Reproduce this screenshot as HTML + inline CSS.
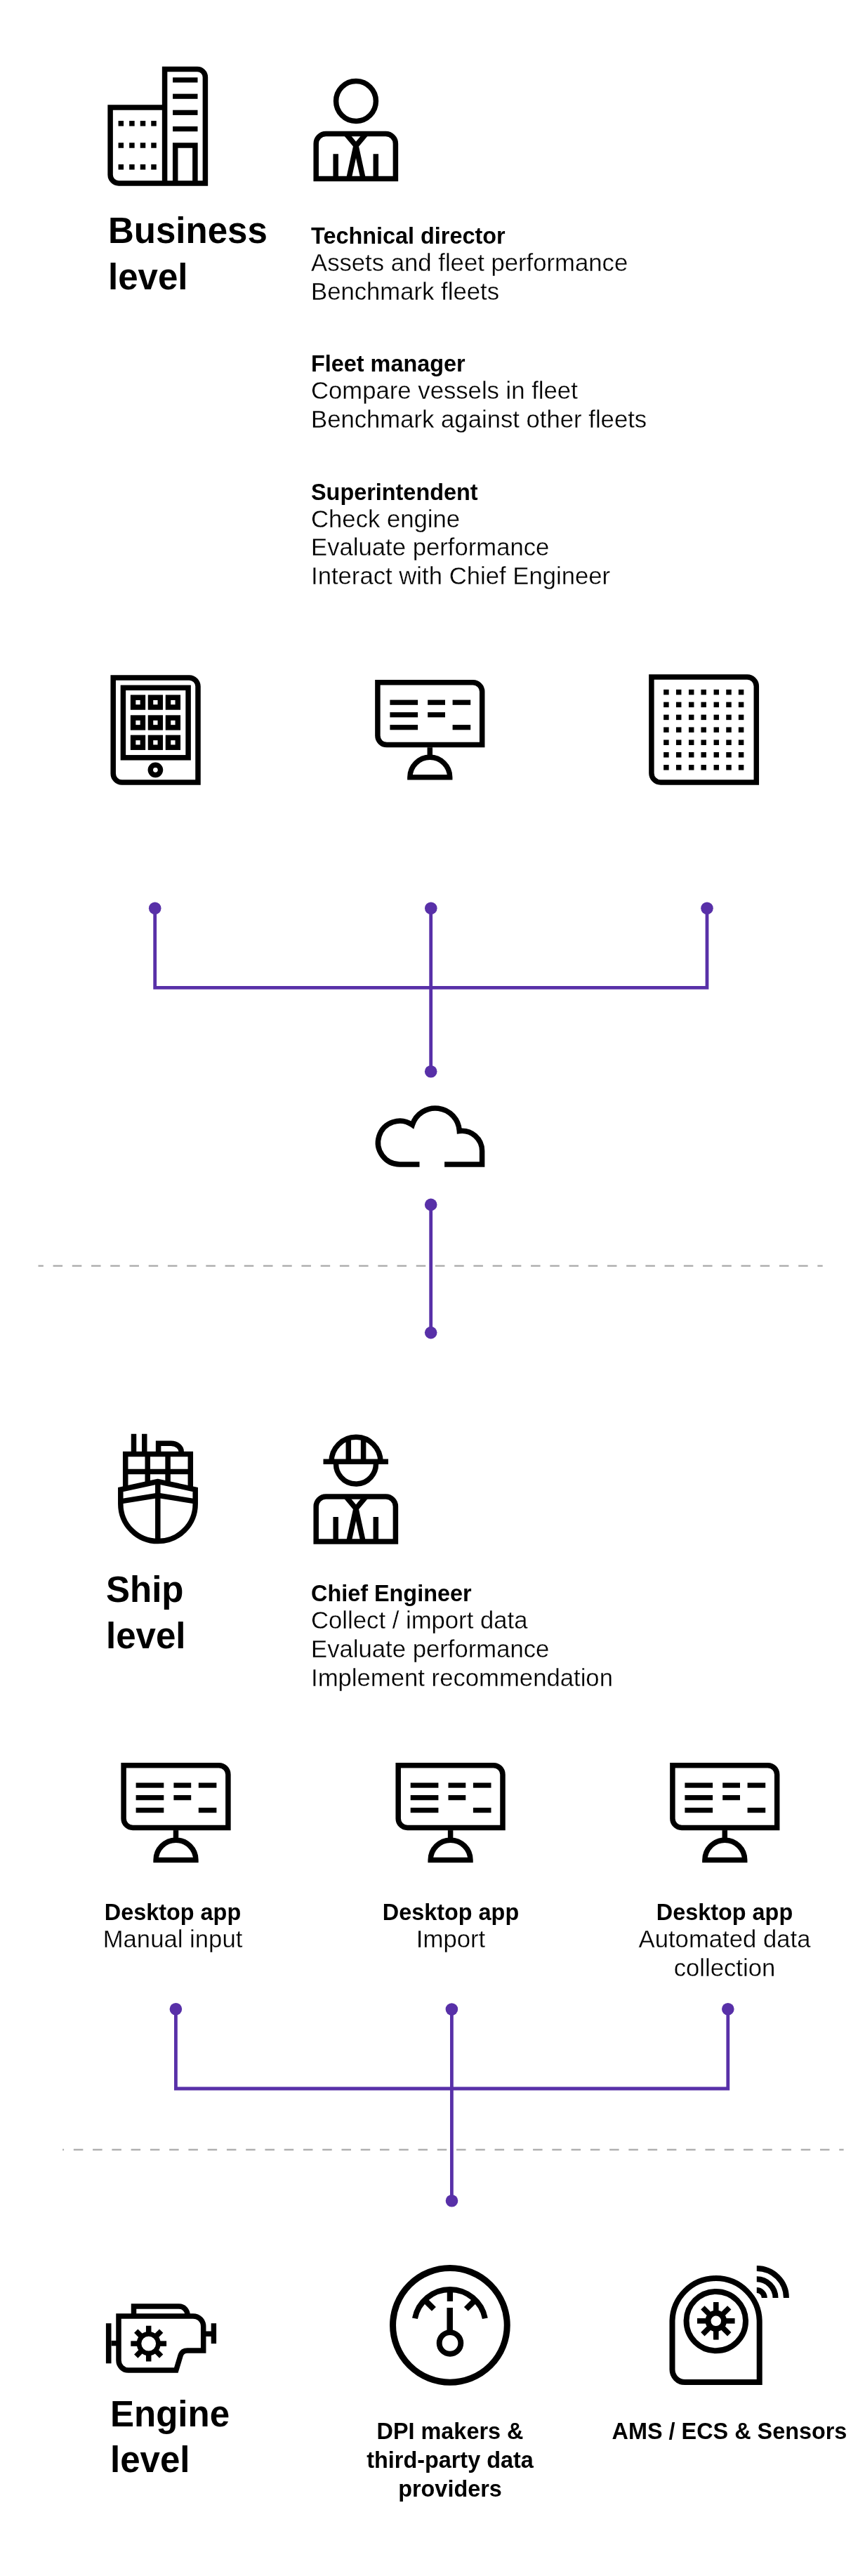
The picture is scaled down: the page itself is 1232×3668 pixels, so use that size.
<!DOCTYPE html>
<html><head><meta charset="utf-8"><style>
html,body{margin:0;padding:0;background:#fff;}
body{width:1232px;height:3668px;position:relative;overflow:hidden;font-family:"Liberation Sans",sans-serif;color:#000;}
svg{position:absolute;left:0;top:0;}
.s{fill:none;stroke:#000;stroke-width:7.5;stroke-linejoin:miter;}
.p{fill:none;stroke:#5830A8;stroke-width:4.8;}
.d{stroke:#b0b0b0;stroke-width:2.4;}
.t{position:absolute;white-space:nowrap;will-change:transform;}
.r{-webkit-text-stroke:0.3px #fff;}
</style></head><body>
<svg width="1232" height="3668" viewBox="0 0 1232 3668">
<path d="M234.6 152.9 H157.1 V248.9 A12 12 0 0 0 169.1 260.9 H292.4 V110 A11.4 11.4 0 0 0 281 98.6 H234.6 V260.9" class="s"/>
<rect x="246.1" y="110.3" width="35.4" height="7.2"/>
<rect x="246.1" y="133.6" width="35.4" height="7.2"/>
<rect x="246.1" y="156.7" width="35.4" height="7.2"/>
<rect x="246.1" y="180" width="35.4" height="7.2"/>
<path d="M249.7 260.9 V207 H277.9 V260.9" class="s"/>
<rect x="168.55" y="172.05" width="7.5" height="7.5"/>
<rect x="168.55" y="203.25" width="7.5" height="7.5"/>
<rect x="168.55" y="234.05" width="7.5" height="7.5"/>
<rect x="184.15" y="172.05" width="7.5" height="7.5"/>
<rect x="184.15" y="203.25" width="7.5" height="7.5"/>
<rect x="184.15" y="234.05" width="7.5" height="7.5"/>
<rect x="199.75" y="172.05" width="7.5" height="7.5"/>
<rect x="199.75" y="203.25" width="7.5" height="7.5"/>
<rect x="199.75" y="234.05" width="7.5" height="7.5"/>
<rect x="215.25" y="172.05" width="7.5" height="7.5"/>
<rect x="215.25" y="203.25" width="7.5" height="7.5"/>
<rect x="215.25" y="234.05" width="7.5" height="7.5"/>
<circle cx="507" cy="144" r="28.4" class="s"/>
<g transform="translate(0 0)"><path d="M450.2 254.5 V204.5 A14 14 0 0 1 464.2 190.5 H549.4 A14 14 0 0 1 563.4 204.5 V254.5 Z" class="s"/><path d="M478.2 219.3 V254.5 M535.3 219.3 V254.5" class="s"/><path d="M492.7 190.5 L507 207.5 L521.3 190.5 M496.8 254.5 L507 207.5 L517.2 254.5" class="s"/></g>
<path d="M161.2 964.9 H269.6 A12.4 12.4 0 0 1 282 977.3 V1114 H173.6 A12.4 12.4 0 0 1 161.2 1101.6 Z" class="s"/>
<rect x="175.4" y="979.3" width="92.7" height="99.5" class="s"/>
<rect x="189.6" y="993.2" width="13.8" height="13.8" class="s"/>
<rect x="189.6" y="1022.1" width="13.8" height="13.8" class="s"/>
<rect x="189.6" y="1050.4" width="13.8" height="13.8" class="s"/>
<rect x="214.5" y="993.2" width="13.8" height="13.8" class="s"/>
<rect x="214.5" y="1022.1" width="13.8" height="13.8" class="s"/>
<rect x="214.5" y="1050.4" width="13.8" height="13.8" class="s"/>
<rect x="239.5" y="993.2" width="13.8" height="13.8" class="s"/>
<rect x="239.5" y="1022.1" width="13.8" height="13.8" class="s"/>
<rect x="239.5" y="1050.4" width="13.8" height="13.8" class="s"/>
<circle cx="221.4" cy="1096.3" r="7.1" class="s"/>
<g transform="translate(534.3 968.2)"><path d="M3.6 3.6 H139.4 A13 13 0 0 1 152.4 16.6 V92.4 H16.6 A13 13 0 0 1 3.6 79.4 Z" class="s"/><rect x="21.1" y="28.4" width="39.7" height="7.2"/><rect x="74.9" y="28.4" width="24.8" height="7.2"/><rect x="110.3" y="28.4" width="25.6" height="7.2"/><rect x="21.1" y="46" width="39.7" height="7.2"/><rect x="74.9" y="46" width="24.8" height="7.2"/><rect x="21.1" y="63.9" width="39.7" height="7.2"/><rect x="110.3" y="63.9" width="25.6" height="7.2"/><path d="M78 96 V108" class="s"/><path d="M49.6 138.5 A28.4 28.4 0 0 1 106.4 138.5 Z" class="s"/></g>
<path d="M927.9 964.1 H1064.3 A13 13 0 0 1 1077.3 977.1 V1114 H940.9 A13 13 0 0 1 927.9 1101 Z" class="s"/>
<rect x="945.15" y="981.85" width="7.5" height="7.5"/>
<rect x="945.15" y="999.65" width="7.5" height="7.5"/>
<rect x="945.15" y="1017.65" width="7.5" height="7.5"/>
<rect x="945.15" y="1035.45" width="7.5" height="7.5"/>
<rect x="945.15" y="1053.45" width="7.5" height="7.5"/>
<rect x="945.15" y="1071.05" width="7.5" height="7.5"/>
<rect x="945.15" y="1089.05" width="7.5" height="7.5"/>
<rect x="962.95" y="981.85" width="7.5" height="7.5"/>
<rect x="962.95" y="999.65" width="7.5" height="7.5"/>
<rect x="962.95" y="1017.65" width="7.5" height="7.5"/>
<rect x="962.95" y="1035.45" width="7.5" height="7.5"/>
<rect x="962.95" y="1053.45" width="7.5" height="7.5"/>
<rect x="962.95" y="1071.05" width="7.5" height="7.5"/>
<rect x="962.95" y="1089.05" width="7.5" height="7.5"/>
<rect x="980.95" y="981.85" width="7.5" height="7.5"/>
<rect x="980.95" y="999.65" width="7.5" height="7.5"/>
<rect x="980.95" y="1017.65" width="7.5" height="7.5"/>
<rect x="980.95" y="1035.45" width="7.5" height="7.5"/>
<rect x="980.95" y="1053.45" width="7.5" height="7.5"/>
<rect x="980.95" y="1071.05" width="7.5" height="7.5"/>
<rect x="980.95" y="1089.05" width="7.5" height="7.5"/>
<rect x="998.45" y="981.85" width="7.5" height="7.5"/>
<rect x="998.45" y="999.65" width="7.5" height="7.5"/>
<rect x="998.45" y="1017.65" width="7.5" height="7.5"/>
<rect x="998.45" y="1035.45" width="7.5" height="7.5"/>
<rect x="998.45" y="1053.45" width="7.5" height="7.5"/>
<rect x="998.45" y="1071.05" width="7.5" height="7.5"/>
<rect x="998.45" y="1089.05" width="7.5" height="7.5"/>
<rect x="1016.55" y="981.85" width="7.5" height="7.5"/>
<rect x="1016.55" y="999.65" width="7.5" height="7.5"/>
<rect x="1016.55" y="1017.65" width="7.5" height="7.5"/>
<rect x="1016.55" y="1035.45" width="7.5" height="7.5"/>
<rect x="1016.55" y="1053.45" width="7.5" height="7.5"/>
<rect x="1016.55" y="1071.05" width="7.5" height="7.5"/>
<rect x="1016.55" y="1089.05" width="7.5" height="7.5"/>
<rect x="1034.25" y="981.85" width="7.5" height="7.5"/>
<rect x="1034.25" y="999.65" width="7.5" height="7.5"/>
<rect x="1034.25" y="1017.65" width="7.5" height="7.5"/>
<rect x="1034.25" y="1035.45" width="7.5" height="7.5"/>
<rect x="1034.25" y="1053.45" width="7.5" height="7.5"/>
<rect x="1034.25" y="1071.05" width="7.5" height="7.5"/>
<rect x="1034.25" y="1089.05" width="7.5" height="7.5"/>
<rect x="1051.85" y="981.85" width="7.5" height="7.5"/>
<rect x="1051.85" y="999.65" width="7.5" height="7.5"/>
<rect x="1051.85" y="1017.65" width="7.5" height="7.5"/>
<rect x="1051.85" y="1035.45" width="7.5" height="7.5"/>
<rect x="1051.85" y="1053.45" width="7.5" height="7.5"/>
<rect x="1051.85" y="1071.05" width="7.5" height="7.5"/>
<rect x="1051.85" y="1089.05" width="7.5" height="7.5"/>
<path d="M597.5 1657.9 H569.4 A30.9 30.9 0 1 1 587.25 1601.78 A34.4 34.4 0 0 1 654.35 1610.43 A28.6 28.6 0 0 1 686.6 1638.8 V1657.9 H633.1" class="s"/>
<path d="M220.7 1293.3 V1406.4 H1007 V1293.3 M613.7 1293.1 V1525.7" class="p"/>
<circle cx="220.7" cy="1293.3" r="8.8" fill="#5830A8"/>
<circle cx="613.8" cy="1293.3" r="8.8" fill="#5830A8"/>
<circle cx="1007" cy="1293.3" r="8.8" fill="#5830A8"/>
<circle cx="613.7" cy="1525.7" r="8.8" fill="#5830A8"/>
<line x1="54.5" y1="1802.5" x2="1171.7" y2="1802.5" class="d" stroke-dasharray="13.5 13.72" stroke-dashoffset="6.14"/>
<path d="M613.7 1715.4 V1897.6" class="p"/>
<circle cx="613.7" cy="1715.4" r="8.8" fill="#5830A8"/>
<circle cx="613.7" cy="1897.6" r="8.8" fill="#5830A8"/>
<line x1="89.1" y1="3061" x2="1201.6" y2="3061" class="d" stroke-dasharray="13.5 13.76" stroke-dashoffset="11.52"/>
<path d="M250.4 2860.8 V2974 H1036.8 V2860.8 M643.4 2861 V3133.7" class="p"/>
<circle cx="250.4" cy="2860.8" r="8.8" fill="#5830A8"/>
<circle cx="643.4" cy="2861" r="8.8" fill="#5830A8"/>
<circle cx="1036.8" cy="2860.8" r="8.8" fill="#5830A8"/>
<circle cx="643.5" cy="3133.7" r="8.8" fill="#5830A8"/>
<path d="M190.5 2041.8 V2067 M205.75 2041.8 V2067" class="s"/>
<path d="M225.6 2067 V2055.3 H243.6 A14.6 11.7 0 0 1 258.2 2067" class="s"/>
<path d="M178.7 2121 V2070.5 H271.3 V2121 M178.7 2095.6 H271.3 M210.25 2070.5 V2113 M239.1 2070.5 V2113" class="s"/>
<path d="M225 2109.5 L171.8 2121 V2141.4 A53.2 53.2 0 0 0 278.2 2141.4 V2121 Z" class="s"/>
<path d="M171.8 2137.9 L225 2129.3 L278.2 2137.9" class="s"/>
<path d="M224.8 2110 V2194.6" class="s"/>
<path d="M472 2081.3 A35 35 0 0 1 542 2081.3 M460.5 2081.3 H553 M496.3 2046 V2081.3 M517.6 2046 V2081.3" class="s"/>
<path d="M478.8 2081.3 A28.4 28.4 0 1 0 535.2 2081.3" class="s"/>
<g transform="translate(0 1940.6)"><path d="M450.2 254.5 V204.5 A14 14 0 0 1 464.2 190.5 H549.4 A14 14 0 0 1 563.4 204.5 V254.5 Z" class="s"/><path d="M478.2 219.3 V254.5 M535.3 219.3 V254.5" class="s"/><path d="M492.7 190.5 L507 207.5 L521.3 190.5 M496.8 254.5 L507 207.5 L517.2 254.5" class="s"/></g>
<g transform="translate(172.5 2510.1)"><path d="M3.6 3.6 H139.4 A13 13 0 0 1 152.4 16.6 V92.4 H16.6 A13 13 0 0 1 3.6 79.4 Z" class="s"/><rect x="21.1" y="28.4" width="39.7" height="7.2"/><rect x="74.9" y="28.4" width="24.8" height="7.2"/><rect x="110.3" y="28.4" width="25.6" height="7.2"/><rect x="21.1" y="46" width="39.7" height="7.2"/><rect x="74.9" y="46" width="24.8" height="7.2"/><rect x="21.1" y="63.9" width="39.7" height="7.2"/><rect x="110.3" y="63.9" width="25.6" height="7.2"/><path d="M78 96 V108" class="s"/><path d="M49.6 138.5 A28.4 28.4 0 0 1 106.4 138.5 Z" class="s"/></g>
<g transform="translate(563.6 2510.1)"><path d="M3.6 3.6 H139.4 A13 13 0 0 1 152.4 16.6 V92.4 H16.6 A13 13 0 0 1 3.6 79.4 Z" class="s"/><rect x="21.1" y="28.4" width="39.7" height="7.2"/><rect x="74.9" y="28.4" width="24.8" height="7.2"/><rect x="110.3" y="28.4" width="25.6" height="7.2"/><rect x="21.1" y="46" width="39.7" height="7.2"/><rect x="74.9" y="46" width="24.8" height="7.2"/><rect x="21.1" y="63.9" width="39.7" height="7.2"/><rect x="110.3" y="63.9" width="25.6" height="7.2"/><path d="M78 96 V108" class="s"/><path d="M49.6 138.5 A28.4 28.4 0 0 1 106.4 138.5 Z" class="s"/></g>
<g transform="translate(954.3 2510.1)"><path d="M3.6 3.6 H139.4 A13 13 0 0 1 152.4 16.6 V92.4 H16.6 A13 13 0 0 1 3.6 79.4 Z" class="s"/><rect x="21.1" y="28.4" width="39.7" height="7.2"/><rect x="74.9" y="28.4" width="24.8" height="7.2"/><rect x="110.3" y="28.4" width="25.6" height="7.2"/><rect x="21.1" y="46" width="39.7" height="7.2"/><rect x="74.9" y="46" width="24.8" height="7.2"/><rect x="21.1" y="63.9" width="39.7" height="7.2"/><rect x="110.3" y="63.9" width="25.6" height="7.2"/><path d="M78 96 V108" class="s"/><path d="M49.6 138.5 A28.4 28.4 0 0 1 106.4 138.5 Z" class="s"/></g>
<rect x="150.9" y="3308.2" width="7.6" height="57.1"/>
<path d="M158.5 3336.6 H167" class="s"/>
<path d="M169 3297.9 H275 A14.7 14.7 0 0 1 289.7 3312.6 V3346.9 H267 Q259.5 3346.9 257.3 3353.5 L250.8 3375.1 H183 A14 14 0 0 1 169 3361.1 Z" class="s"/>
<path d="M190.5 3297.9 V3284.1 H255 A12 12 0 0 1 267 3296.1" class="s"/>
<path d="M291 3323.2 H301" class="s"/>
<rect x="300.7" y="3308.2" width="7.4" height="28.9"/>
<circle cx="211.7" cy="3337.1" r="13.75" fill="none" stroke="#000" stroke-width="6.7"/><line x1="226.7" y1="3337.1" x2="237.1" y2="3337.1" stroke="#000" stroke-width="7.5"/><line x1="222.31" y1="3347.71" x2="229.66" y2="3355.06" stroke="#000" stroke-width="7.5"/><line x1="211.7" y1="3352.1" x2="211.7" y2="3362.5" stroke="#000" stroke-width="7.5"/><line x1="201.09" y1="3347.71" x2="193.74" y2="3355.06" stroke="#000" stroke-width="7.5"/><line x1="196.7" y1="3337.1" x2="186.3" y2="3337.1" stroke="#000" stroke-width="7.5"/><line x1="201.09" y1="3326.49" x2="193.74" y2="3319.14" stroke="#000" stroke-width="7.5"/><line x1="211.7" y1="3322.1" x2="211.7" y2="3311.7" stroke="#000" stroke-width="7.5"/><line x1="222.31" y1="3326.49" x2="229.66" y2="3319.14" stroke="#000" stroke-width="7.5"/>
<circle cx="640.9" cy="3310.9" r="81.35" fill="none" stroke="#000" stroke-width="9"/>
<path d="M590.94 3301.19 A50.9 50.9 0 0 1 690.86 3301.19" class="s" style="stroke-width:8"/>
<line x1="640.9" y1="3262.9" x2="640.9" y2="3276.9" stroke="#000" stroke-width="8.3"/>
<line x1="606.96" y1="3276.96" x2="617.92" y2="3287.92" stroke="#000" stroke-width="8.3"/>
<line x1="674.84" y1="3276.96" x2="663.88" y2="3287.92" stroke="#000" stroke-width="8.3"/>
<path d="M640.7 3286 V3320" class="s" style="stroke-width:8.5"/>
<circle cx="641" cy="3336.4" r="15.3" fill="none" stroke="#000" stroke-width="7.9"/>
<path d="M957.5 3306.1 A62.1 62.1 0 0 1 1081.7 3306.1 V3392.1 H975.5 A18 18 0 0 1 957.5 3374.1 Z" class="s" style="stroke-width:8"/>
<circle cx="1019.8" cy="3305.1" r="42.2" class="s" style="stroke-width:8"/>
<circle cx="1019.8" cy="3304.8" r="11.25" fill="none" stroke="#000" stroke-width="8"/><line x1="1033.8" y1="3304.8" x2="1046.6" y2="3304.8" stroke="#000" stroke-width="7.6"/><line x1="1029.7" y1="3314.7" x2="1038.75" y2="3323.75" stroke="#000" stroke-width="7.6"/><line x1="1019.8" y1="3318.8" x2="1019.8" y2="3331.6" stroke="#000" stroke-width="7.6"/><line x1="1009.9" y1="3314.7" x2="1000.85" y2="3323.75" stroke="#000" stroke-width="7.6"/><line x1="1005.8" y1="3304.8" x2="993" y2="3304.8" stroke="#000" stroke-width="7.6"/><line x1="1009.9" y1="3294.9" x2="1000.85" y2="3285.85" stroke="#000" stroke-width="7.6"/><line x1="1019.8" y1="3290.8" x2="1019.8" y2="3278" stroke="#000" stroke-width="7.6"/><line x1="1029.7" y1="3294.9" x2="1038.75" y2="3285.85" stroke="#000" stroke-width="7.6"/>
<path d="M1077.8 3261 A11 11 0 0 1 1088.8 3272" class="s" style="stroke-width:8"/>
<path d="M1077.8 3245.3 A26.7 26.7 0 0 1 1104.5 3272" class="s" style="stroke-width:8"/>
<path d="M1077.8 3229.9 A42.1 42.1 0 0 1 1119.9 3272" class="s" style="stroke-width:8"/>
</svg>
<div class="t" style="top:308.53px;font-size:51px;line-height:40px;font-weight:700;left:153.5px;">Business</div>
<div class="t" style="top:374.93px;font-size:51px;line-height:40px;font-weight:700;left:153.5px;">level</div>
<div class="t" style="top:316.47px;font-size:32.4px;line-height:40px;font-weight:700;left:443px;">Technical director</div>
<div class="t r" style="top:354.48px;font-size:34.7px;line-height:40px;font-weight:400;left:443px;">Assets and fleet performance</div>
<div class="t r" style="top:395.38px;font-size:34.7px;line-height:40px;font-weight:400;left:443px;">Benchmark fleets</div>
<div class="t" style="top:497.67px;font-size:32.4px;line-height:40px;font-weight:700;left:443px;">Fleet manager</div>
<div class="t r" style="top:535.68px;font-size:34.7px;line-height:40px;font-weight:400;left:443px;">Compare vessels in fleet</div>
<div class="t r" style="top:576.58px;font-size:34.7px;line-height:40px;font-weight:400;left:443px;">Benchmark against other fleets</div>
<div class="t" style="top:680.57px;font-size:32.4px;line-height:40px;font-weight:700;left:443px;">Superintendent</div>
<div class="t r" style="top:718.58px;font-size:34.7px;line-height:40px;font-weight:400;left:443px;">Check engine</div>
<div class="t r" style="top:759.48px;font-size:34.7px;line-height:40px;font-weight:400;left:443px;">Evaluate performance</div>
<div class="t r" style="top:800.38px;font-size:34.7px;line-height:40px;font-weight:400;left:443px;">Interact with Chief Engineer</div>
<div class="t" style="top:2243.63px;font-size:51px;line-height:40px;font-weight:700;left:151.2px;">Ship</div>
<div class="t" style="top:2310.23px;font-size:51px;line-height:40px;font-weight:700;left:151.2px;">level</div>
<div class="t" style="top:2249.07px;font-size:32.4px;line-height:40px;font-weight:700;left:443px;">Chief Engineer</div>
<div class="t r" style="top:2287.08px;font-size:34.7px;line-height:40px;font-weight:400;left:443px;">Collect / import data</div>
<div class="t r" style="top:2327.98px;font-size:34.7px;line-height:40px;font-weight:400;left:443px;">Evaluate performance</div>
<div class="t r" style="top:2368.88px;font-size:34.7px;line-height:40px;font-weight:400;left:443px;">Implement recommendation</div>
<div class="t" style="top:2703.07px;font-size:32.4px;line-height:40px;font-weight:700;left:-154px;width:800px;text-align:center;">Desktop app</div>
<div class="t r" style="top:2741.08px;font-size:34.7px;line-height:40px;font-weight:400;left:-154px;width:800px;text-align:center;">Manual input</div>
<div class="t" style="top:2703.07px;font-size:32.4px;line-height:40px;font-weight:700;left:242.4px;width:800px;text-align:center;">Desktop app</div>
<div class="t r" style="top:2741.08px;font-size:34.7px;line-height:40px;font-weight:400;left:242.4px;width:800px;text-align:center;">Import</div>
<div class="t" style="top:2703.07px;font-size:32.4px;line-height:40px;font-weight:700;left:632.3px;width:800px;text-align:center;">Desktop app</div>
<div class="t r" style="top:2741.08px;font-size:34.7px;line-height:40px;font-weight:400;left:632.3px;width:800px;text-align:center;">Automated data</div>
<div class="t r" style="top:2781.98px;font-size:34.7px;line-height:40px;font-weight:400;left:632.3px;width:800px;text-align:center;">collection</div>
<div class="t" style="top:3417.93px;font-size:51px;line-height:40px;font-weight:700;left:157.4px;">Engine</div>
<div class="t" style="top:3482.53px;font-size:51px;line-height:40px;font-weight:700;left:157.4px;">level</div>
<div class="t" style="top:3442.07px;font-size:32.4px;line-height:40px;font-weight:700;left:240.8px;width:800px;text-align:center;">DPI makers &amp;</div>
<div class="t" style="top:3482.57px;font-size:32.4px;line-height:40px;font-weight:700;left:240.8px;width:800px;text-align:center;">third-party data</div>
<div class="t" style="top:3523.67px;font-size:32.4px;line-height:40px;font-weight:700;left:240.8px;width:800px;text-align:center;">providers</div>
<div class="t" style="top:3441.87px;font-size:32.4px;line-height:40px;font-weight:700;left:638.5px;width:800px;text-align:center;">AMS / ECS &amp; Sensors</div>
</body></html>
